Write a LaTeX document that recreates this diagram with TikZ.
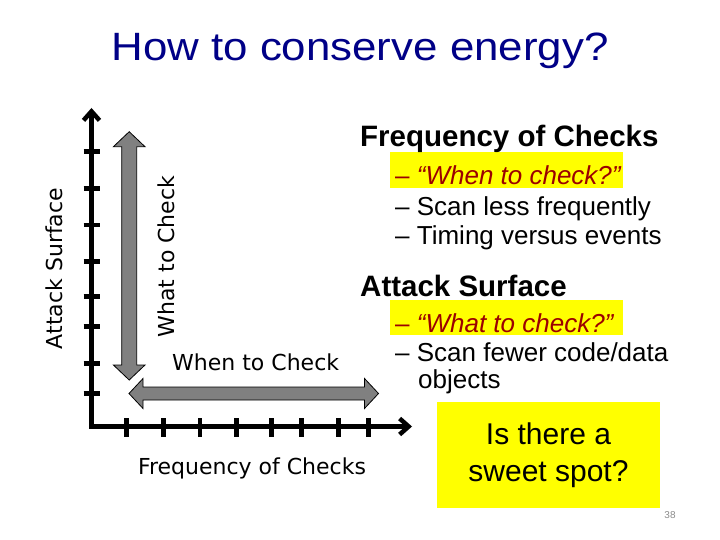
\documentclass[tikz,border=0pt]{standalone}
\usepackage{fontspec}
\setmainfont{Liberation Sans}
\newfontfamily\dvsans{DejaVu Sans}
\usetikzlibrary{arrows.meta}
\definecolor{titleblue}{RGB}{0,0,135}
\definecolor{darkred}{RGB}{155,0,0}
\definecolor{hlyellow}{RGB}{255,255,0}
\definecolor{arrowgray}{RGB}{128,128,128}
\definecolor{pagegray}{RGB}{140,140,140}
\tikzset{
  axisline/.style={line width=4.5pt, line join=miter,
    {Straight Barb[length=9pt,width=16pt]}-{Straight Barb[length=9pt,width=16pt]}},
  tickmark/.style={line width=4.5pt},
  grayarrow/.style={fill=arrowgray, draw=black, line width=0.8pt, line join=miter},
  axlabel/.style={inner sep=0pt, font=\dvsans\fontsize{22}{26}\selectfont},
  body/.style={inner sep=0pt, anchor=base west, font=\fontsize{26}{30}\selectfont},
  head/.style={inner sep=0pt, anchor=base west, font=\bfseries\fontsize{29.5}{34}\selectfont},
  hl/.style={fill=hlyellow, draw=none},
}
\begin{document}
\begin{tikzpicture}[x=1pt,y=-1pt]
\useasboundingbox[fill=white] (0,0) rectangle (720,540);

% title
\node[inner sep=0pt, anchor=base, text=titleblue, xscale=1.11,
  font=\fontsize{39.5}{46}\selectfont] (title) at (360,61) {How to conserve energy?};

% axes
\coordinate (ytop) at (91.5,108);
\coordinate (origin) at (91.5,426.5);
\coordinate (xend) at (412,426.5);
\draw[axisline] (ytop) -- (origin) -- (xend);
\foreach \ty in {151.7,188.3,225,261.7,296.7,326.7,363.3,393.3}
  \draw[tickmark] (83.5,\ty) -- (100,\ty);
\foreach \tx in {126.7,163.3,200,236.7,271.7,301.7,338.3,368.3}
  \draw[tickmark] (\tx,418) -- (\tx,437);

% gray double arrows
\draw[grayarrow] (129.2,131.7) -- (145,146.7) -- (136.7,146.7) -- (136.7,365)
  -- (145,365) -- (129.2,380) -- (113.4,365) -- (121.7,365) -- (121.7,146.7)
  -- (113.4,146.7) -- cycle;
\draw[grayarrow] (129,393.5) -- (143,378.5) -- (143,387) -- (364.5,387)
  -- (364.5,378.5) -- (378.5,393.5) -- (364.5,408.5) -- (364.5,400)
  -- (143,400) -- (143,408.5) -- cycle;

% axis labels
\node[axlabel, rotate=90] (atkv) at (54.5,268.5) {Attack Surface};
\node[axlabel, rotate=90] (whatv) at (166.5,256.5) {What to Check};
\node[axlabel, anchor=base west] (when) at (172,370) {When to Check};
\node[axlabel, anchor=base] (freqh) at (252,474) {Frequency of Checks};

% right-hand text
\fill[hl] (390,152) rectangle (623,188);
\fill[hl] (390,300) rectangle (623,335);
\node[head] (h1) at (360,147) {Frequency of Checks};
\node[body, text=darkred] (l1) at (395,185) {– \itshape “When to check?”};
\node[body] (l2) at (395,215) {– Scan less frequently};
\node[body] (l3) at (395,244) {– Timing versus events};
\node[head] (h2) at (360,296) {Attack Surface};
\node[body, text=darkred] (l4) at (395,332) {– \itshape “What to check?”};
\node[body] (l5) at (395,361) {– Scan fewer code/data};
\node[body] (l6) at (418,388) {objects};

% sweet spot box
\node[fill=hlyellow, minimum width=223pt, minimum height=106pt, inner sep=0pt,
  align=center, font=\fontsize{30}{37}\selectfont] (sweet) at (548.5,455)
  {Is there a\\sweet spot?};

% page number
\node[inner sep=0pt, text=pagegray, font=\fontsize{10}{12}\selectfont] (pg) at (670,515) {38};
\end{tikzpicture}
\end{document}
